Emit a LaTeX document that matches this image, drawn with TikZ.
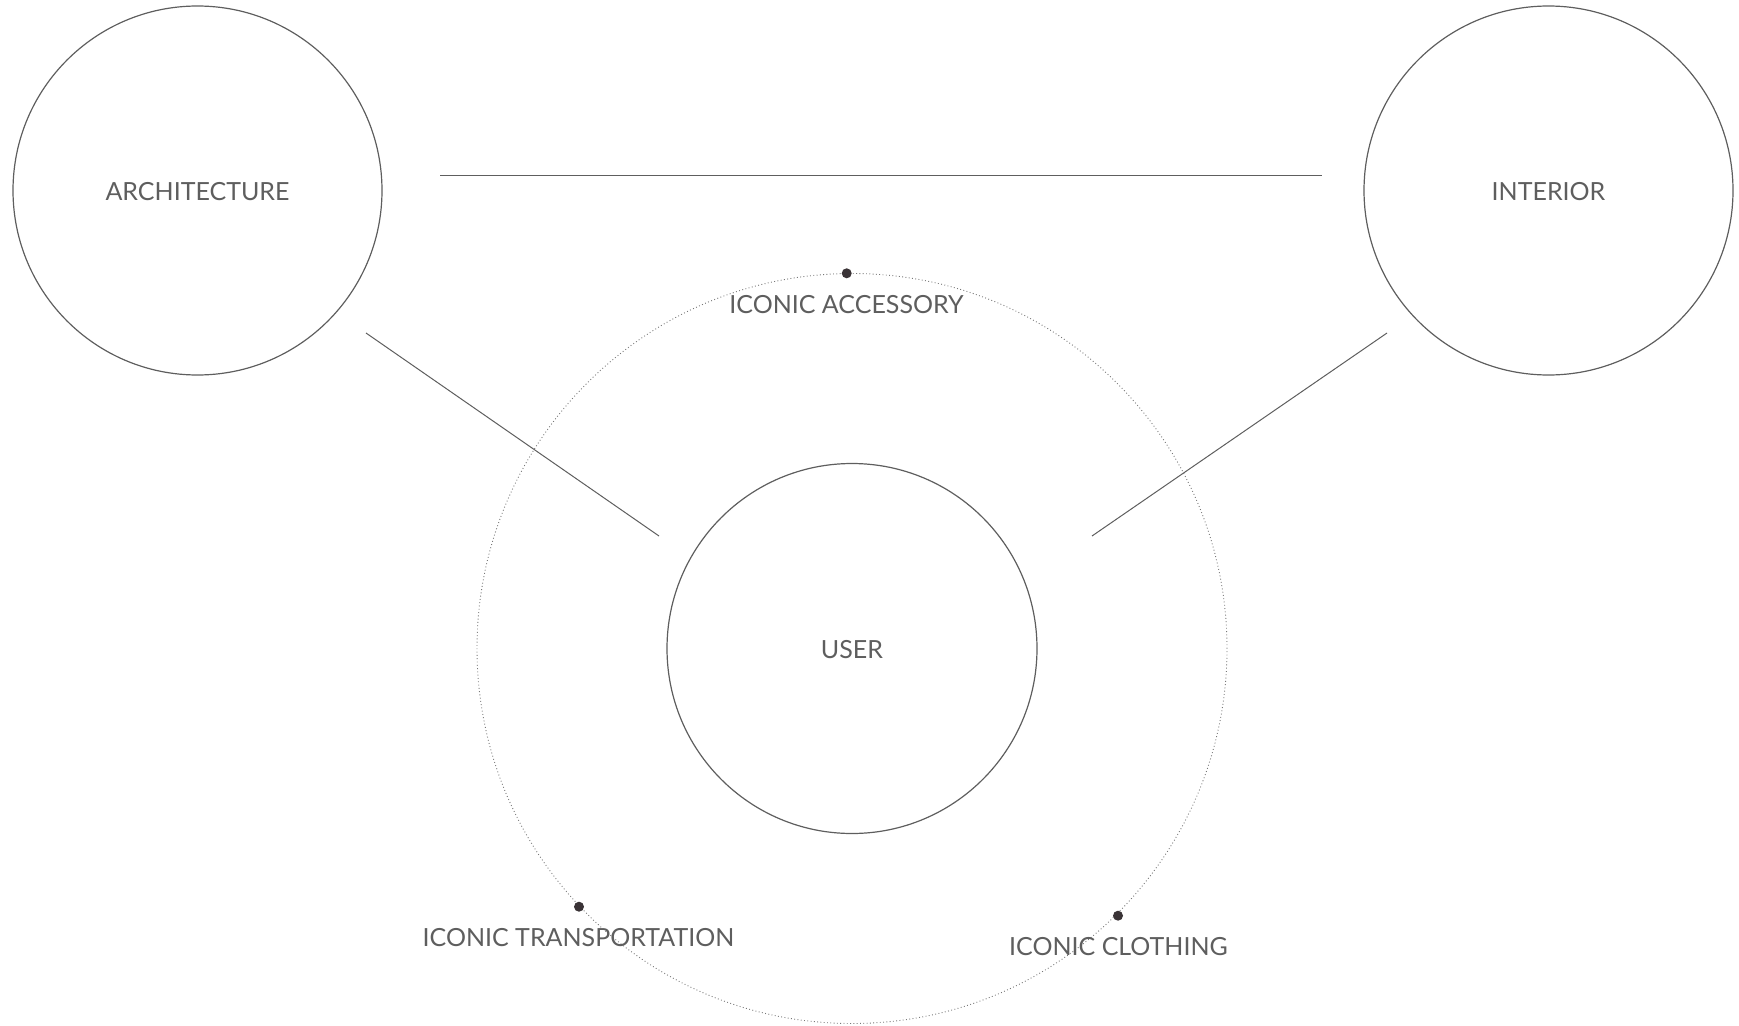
\documentclass[tikz,border=0pt]{standalone}
\usepackage{fontspec}
\setmainfont{Lato}
\definecolor{linegray}{HTML}{5E5E5E}
\definecolor{textgray}{HTML}{5E5E5E}
\definecolor{dotdark}{HTML}{3A3336}
\definecolor{dotgray}{HTML}{777777}
\begin{document}
\begin{tikzpicture}[x=1pt,y=-1pt,
  bigcircle/.style={circle,draw=linegray,line width=1.2pt,minimum size=369pt,inner sep=0pt,text=textgray,font=\fontsize{25}{30}\selectfont},
  label/.style={text=textgray,inner sep=0pt,font=\fontsize{25}{30}\selectfont},
  link/.style={draw=linegray,line width=1pt},
  orbit/.style={draw=dotgray,line width=0.9pt,dash pattern=on 0.9pt off 2.4pt},
  marker/.style={circle,fill=dotdark,inner sep=0pt,minimum size=10pt}]
\useasboundingbox (0,0) rectangle (1739,1025);
% orbit
\node[circle,orbit,minimum size=750pt,inner sep=0pt] (orbit) at (852,648.5) {};
% main circles
\node[bigcircle] (arch) at (197.5,190.5) {};
\node[bigcircle] (inter) at (1548.5,190.5) {};
\node[bigcircle,minimum size=370pt] (user) at (852,648.5) {};
\node[label] (tarch) at (197.5,192) {ARCHITECTURE};
\node[label] (tinter) at (1548.5,192) {INTERIOR};
\node[label] (tuser) at (852,650) {USER};
% connector end points
\coordinate (h1) at (440,175);
\coordinate (h2) at (1322,175);
\coordinate (l1) at (366,333);
\coordinate (l2) at (659,536);
\coordinate (r1) at (1387,333);
\coordinate (r2) at (1092,536);
\draw[link] (h1) -- (h2);
\draw[link] (l1) -- (l2);
\draw[link] (r1) -- (r2);
% markers
\node[marker] (macc) at (846.7,273.3) {};
\node[marker] (mtra) at (579,906.7) {};
\node[marker] (mclo) at (1118,915.7) {};
% labels
\node[label] (tacc) at (846.5,305) {ICONIC ACCESSORY};
\node[label] (ttra) at (578.5,937.5) {ICONIC TRANSPORTATION};
\node[label] (tclo) at (1118.5,946.5) {ICONIC CLOTHING};
\end{tikzpicture}
\end{document}
